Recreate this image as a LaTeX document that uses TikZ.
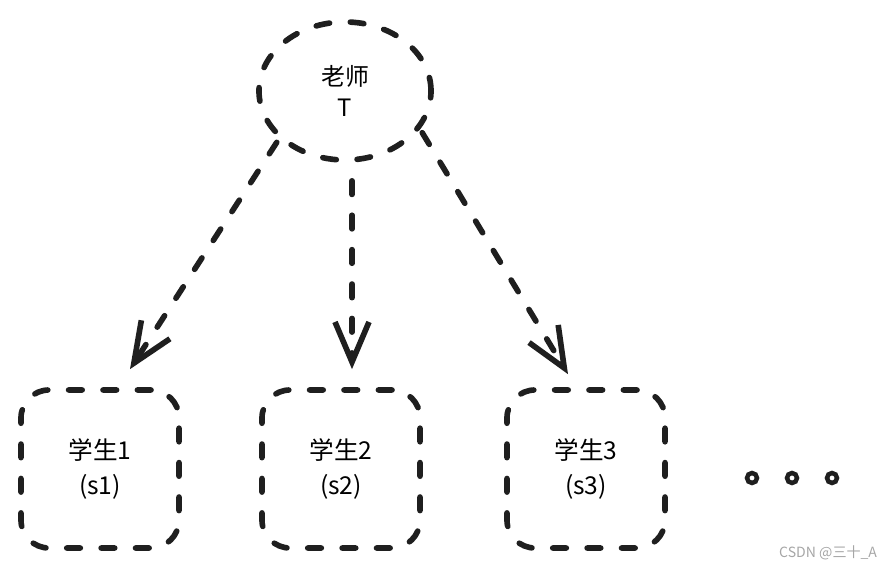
\documentclass[tikz,border=0pt]{standalone}
\usepackage{fontspec}
\setmainfont{Noto Sans CJK SC}
\usetikzlibrary{arrows.meta, shapes.geometric, positioning, calc}

\begin{document}
\begin{tikzpicture}[
    x=0.025cm, y=-0.025cm,
    sketch/.style={draw=black!88, line width=4pt, line cap=round, dash pattern=on 0.34cm off 0.52cm},
    teacherbox/.style={sketch, ellipse, minimum width=4.3cm, minimum height=3.45cm, inner sep=0pt, align=center, font=\fontsize{17}{22}\selectfont},
    studentbox/.style={sketch, rectangle, rounded corners=0.7cm, minimum width=3.95cm, minimum height=3.95cm, align=center, font=\fontsize{17.5}{25}\selectfont},
    link/.style={sketch, -{Straight Barb[length=1cm, width=0.85cm, line width=4pt]}},
    dot/.style={circle, draw=black!88, line width=3.2pt, minimum size=0.25cm, inner sep=0pt},
    font=\fontsize{17}{22}\selectfont]
\useasboundingbox (0,0) rectangle (883,569);
\node[teacherbox] (teacher) at (345,91) {老师\\T};
\node[studentbox] (s1) at (100,469) {学生1\\(s1)};
\node[studentbox] (s2) at (341,469) {学生2\\(s2)};
\node[studentbox] (s3) at (586,469) {学生3\\(s3)};
\draw[link, shorten <=0.1cm] (teacher.216) -- ($(s1.north)+(30,-18)$);
\draw[link, shorten <=0.45cm] ($(teacher.south)+(7,0)$) -- ($(s2.north)+(11,-18)$);
\draw[link, shorten <=0.1cm] (teacher.333) -- ($(s3.north)+(-18,-13)$);
\node[dot] (d1) at (752,478) {};
\node[dot] (d2) at (792,478) {};
\node[dot] (d3) at (832,478) {};
\node[anchor=east, text=black!35, font=\fontsize{10}{12}\selectfont] (mark) at (882,553) {CSDN @三十\_A};
\end{tikzpicture}
\end{document}
